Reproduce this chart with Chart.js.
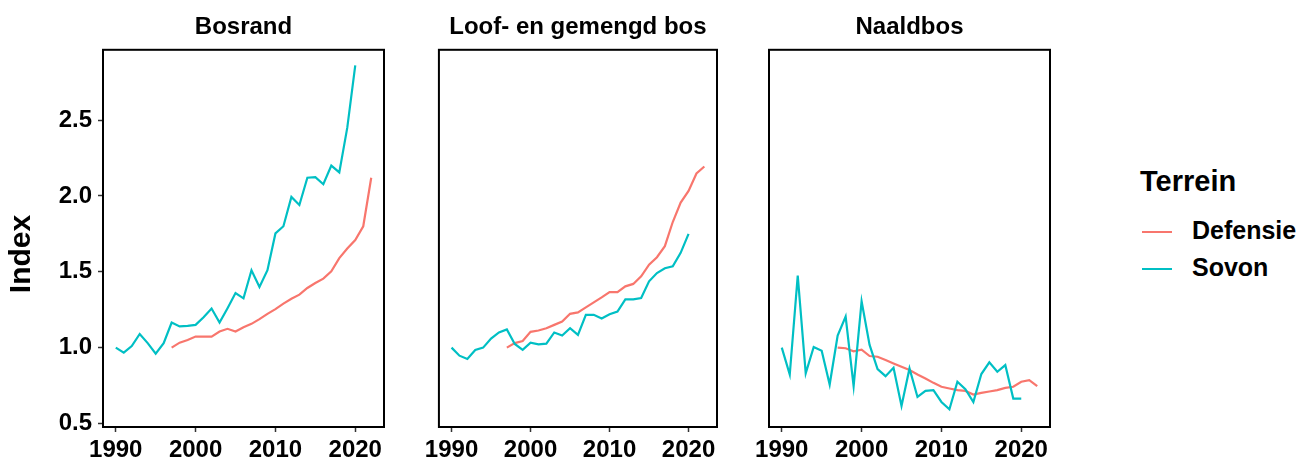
<!DOCTYPE html>
<html>
<head>
<meta charset="utf-8">
<script src="https://cdn.jsdelivr.net/npm/chart.js@4.4.1/dist/chart.umd.min.js"></script>
<style>
  body { margin: 0; background: #fff; }
  #wrap { position: relative; width: 1300px; height: 459px; overflow: hidden; }
  #wrap canvas { position: absolute; top: 0; }
  .legend { position: absolute; font-family: "Liberation Sans", Arial, sans-serif; font-weight: bold; color: #000; }
  .legend .title { position: absolute; left: 1140px; top: 165px; font-size: 29px; white-space: nowrap; }
  .legend .item { position: absolute; left: 1142px; height: 30px; white-space: nowrap; font-size: 25px; line-height: 30px; }
  .legend .item i { display: inline-block; width: 30px; height: 2px; vertical-align: middle; margin-right: 20px; }
</style>
</head>
<body>
<div id="wrap">
  <canvas id="c1" width="410" height="459" style="left:0px"></canvas>
  <canvas id="c2" width="320" height="459" style="left:420px"></canvas>
  <canvas id="c3" width="320" height="459" style="left:750px"></canvas>
  <div class="legend" id="legend"></div>
</div>
<script>
/* ===== DATA ===== */

const panels = ['Bosrand', 'Loof- en gemengd bos', 'Naaldbos'];
const seriesNames = ['Defensie', 'Sovon'];

// Sovon index, 1990–2020
const yearsSovon = [1990, 1991, 1992, 1993, 1994, 1995, 1996, 1997, 1998, 1999,
  2000, 2001, 2002, 2003, 2004, 2005, 2006, 2007, 2008, 2009,
  2010, 2011, 2012, 2013, 2014, 2015, 2016, 2017, 2018, 2019, 2020];

// Defensie index, 1997–2022
const yearsDefensie = [1997, 1998, 1999, 2000, 2001, 2002, 2003, 2004, 2005, 2006,
  2007, 2008, 2009, 2010, 2011, 2012, 2013, 2014, 2015, 2016,
  2017, 2018, 2019, 2020, 2021, 2022];

const sovonBosrand = [1.00, 0.967, 1.01, 1.09, 1.03, 0.96, 1.03, 1.165, 1.14, 1.143,
  1.15, 1.20, 1.258, 1.165, 1.26, 1.36, 1.325, 1.51, 1.40, 1.51,
  1.753, 1.80, 1.993, 1.94, 2.12, 2.124, 2.077, 2.20, 2.155, 2.45, 2.86];
const defensieBosrand = [1.00, 1.033, 1.05, 1.073, 1.073, 1.073, 1.106, 1.124, 1.106, 1.135,
  1.157, 1.188, 1.223, 1.254, 1.29, 1.322, 1.349, 1.393, 1.426, 1.455,
  1.503, 1.59, 1.653, 1.709, 1.80, 2.12];

const sovonLoof = [1.00, 0.947, 0.925, 0.985, 1.00, 1.06, 1.10, 1.12, 1.024, 0.985,
  1.033, 1.022, 1.026, 1.10, 1.08, 1.128, 1.084, 1.216, 1.216, 1.192,
  1.22, 1.238, 1.318, 1.318, 1.327, 1.437, 1.492, 1.523, 1.536, 1.625, 1.75];
const defensieLoof = [1.00, 1.03, 1.044, 1.104, 1.113, 1.128, 1.15, 1.172, 1.223, 1.232,
  1.265, 1.298, 1.331, 1.366, 1.366, 1.404, 1.42, 1.47, 1.547, 1.596,
  1.669, 1.828, 1.956, 2.033, 2.148, 2.194];

const sovonNaald = [1.00, 0.823, 1.475, 0.83, 1.004, 0.98, 0.757, 1.08, 1.205, 0.746,
  1.305, 1.018, 0.859, 0.812, 0.868, 0.616, 0.863, 0.675, 0.715, 0.72,
  0.642, 0.594, 0.775, 0.726, 0.642, 0.826, 0.903, 0.841, 0.885, 0.664, 0.664];
const defensieNaald = [1.00, 0.996, 0.976, 0.987, 0.945, 0.94, 0.918, 0.896, 0.874, 0.852,
  0.823, 0.797, 0.768, 0.742, 0.731, 0.72, 0.715, 0.691, 0.702, 0.711,
  0.72, 0.735, 0.742, 0.775, 0.786, 0.746];

const xTicks = [1990, 2000, 2010, 2020];
const yTicks = [0.5, 1.0, 1.5, 2.0, 2.5];

/* ===== HELPERS ===== */

const FONT_FAMILY = '"Liberation Sans", Arial, sans-serif';
const COLORS = { Defensie: '#F8766D', Sovon: '#00BFC4' };

function toPoints(years, vals) {
  return years.map((y, i) => ({ x: y, y: vals[i] }));
}

// black box round the panel, drawn over the lines like ggplot does
const panelBorder = {
  id: 'panelBorder',
  afterDatasetsDraw(chart) {
    const { ctx, chartArea: a } = chart;
    ctx.save();
    ctx.strokeStyle = '#000';
    ctx.lineWidth = 2;
    ctx.strokeRect(a.left, a.top, a.right - a.left, a.bottom - a.top);
    ctx.restore();
  }
};

// y axis title, sits a bit below the panel middle in the original
const yTitle = {
  id: 'yTitle',
  afterDraw(chart) {
    const { ctx } = chart;
    ctx.save();
    ctx.translate(22, 254);
    ctx.rotate(-Math.PI / 2);
    ctx.font = 'bold 30px ' + FONT_FAMILY;
    ctx.fillStyle = '#000';
    ctx.textAlign = 'center';
    ctx.textBaseline = 'middle';
    ctx.fillText('Index', 0, 0);
    ctx.restore();
  }
};

function makePanel(id, title, defensie, sovon, pad, showY) {
  new Chart(document.getElementById(id), {
    type: 'line',
    data: {
      datasets: [
        {
          label: 'Defensie',
          data: toPoints(yearsDefensie, defensie),
          borderColor: COLORS.Defensie,
          borderWidth: 2.2,
          pointRadius: 0,
          order: 2,
        },
        {
          label: 'Sovon',
          data: toPoints(yearsSovon, sovon),
          borderColor: COLORS.Sovon,
          borderWidth: 2.2,
          pointRadius: 0,
          order: 1,
        }
      ]
    },
    options: {
      responsive: false,
      animation: false,
      devicePixelRatio: 1,
      layout: { padding: { left: pad.left, right: pad.right, top: 0, bottom: 0 } },
      plugins: {
        legend: { display: false },
        tooltip: { enabled: false },
        title: {
          display: true,
          text: title,
          fullSize: false,
          color: '#000',
          font: { family: FONT_FAMILY, size: 24, weight: 'bold' },
          padding: { top: 13, bottom: 8 },
        }
      },
      scales: {
        x: {
          type: 'linear',
          min: 1988.4,
          max: 2023.6,
          afterBuildTicks(scale) { scale.ticks = xTicks.map(v => ({ value: v })); },
          afterFit(scale) { scale.height = 32; },
          border: { display: false },
          grid: { drawOnChartArea: false, tickLength: 5, tickColor: '#333', tickWidth: 1.5 },
          ticks: {
            font: { family: FONT_FAMILY, size: 24, weight: 'bold' },
            color: '#000',
            padding: 4,
            maxRotation: 0,
            callback(v) { return String(v); }
          }
        },
        y: {
          type: 'linear',
          display: showY,
          min: 0.477,
          max: 2.963,
          afterBuildTicks(scale) { scale.ticks = yTicks.map(v => ({ value: v })); },
          afterFit(scale) { if (showY) scale.width = 103; },
          border: { display: false },
          grid: { drawOnChartArea: false, tickLength: 5, tickColor: '#333', tickWidth: 1.5 },
          ticks: {
            font: { family: FONT_FAMILY, size: 24, weight: 'bold' },
            color: '#000',
            padding: 6,
            callback(v) { return v.toFixed(1); }
          }
        }
      }
    },
    plugins: showY ? [panelBorder, yTitle] : [panelBorder]
  });
}

/* ===== PANELS ===== */

makePanel('c1', panels[0], defensieBosrand, sovonBosrand, { left: 0, right: 26 }, true);
makePanel('c2', panels[1], defensieLoof, sovonLoof, { left: 17, right: 23 }, false);
makePanel('c3', panels[2], defensieNaald, sovonNaald, { left: 19, right: 20 }, false);

/* ===== LEGEND ===== */

(function() {
  const box = document.getElementById('legend');
  const t = document.createElement('div');
  t.className = 'title';
  t.textContent = 'Terrein';
  box.appendChild(t);
  seriesNames.forEach((name, i) => {
    const it = document.createElement('div');
    it.className = 'item';
    it.style.top = (215 + i * 37) + 'px';
    it.innerHTML = '<i style="background:' + COLORS[name] + '"></i>' + name;
    box.appendChild(it);
  });
})();
</script>
</body>
</html>
